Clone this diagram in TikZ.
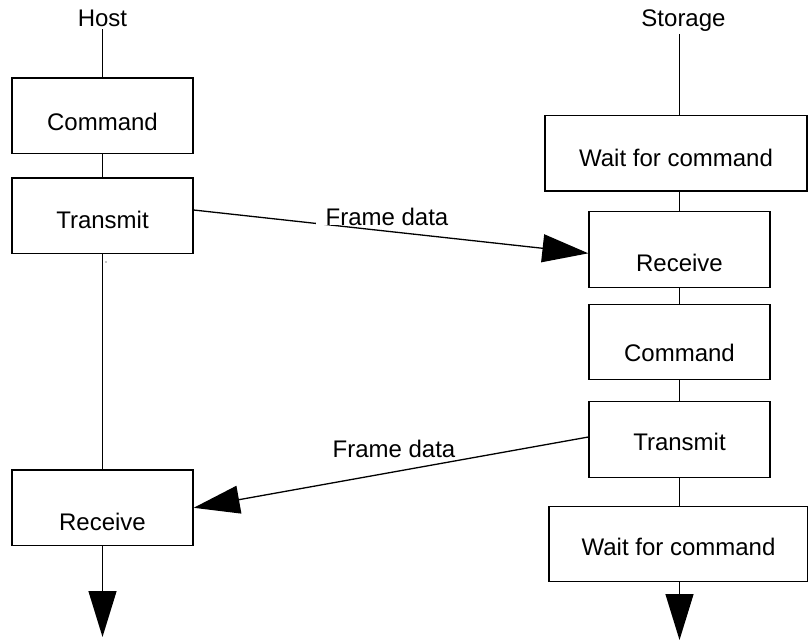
\documentclass[tikz,border=0pt]{standalone}
\usepackage{fontspec}
\setmainfont{Liberation Sans}
\usetikzlibrary{arrows.meta}
\begin{document}
\begin{tikzpicture}[x=1pt, y=-1pt,
  font=\fontsize{24pt}{28pt}\selectfont,
  line width=1.3pt,
  stepbox/.style={draw, inner sep=0pt, minimum height=75.5pt, text depth=0pt},
  narrowbox/.style={stepbox, minimum width=181pt},
  widebox/.style={stepbox},
  lane/.style={inner sep=1.5pt, anchor=base},
  msg/.style={fill=white, text height=17.2pt, text depth=0pt, inner xsep=10pt, inner ysep=0pt},
  flow/.style={-{Triangle[length=46pt, width=28pt]}},
]
\useasboundingbox (0,0) rectangle (808,641);

% lane headers
\node[lane] (host) at (102.5,26.7) {Host};
\node[lane] (stor) at (683.5,26.7) {Storage};

% host lane
\node[narrowbox, text height=30.2pt] (hcmd) at (102.5,115.7) {Command};
\node[narrowbox, text height=26.2pt] (htx)  at (102.5,215.8) {Transmit};
\node[narrowbox, text height=45.2pt] (hrx)  at (102.5,507.8) {Receive};
\coordinate (hend) at (102.5,637);

% storage lane
\node[widebox, minimum width=262pt, text height=27.2pt] (sw1) at (676,153.3) {Wait for command};
\node[narrowbox, text height=44.2pt] (srx)  at (679.5,249.5) {Receive};
\node[narrowbox, text height=39.2pt] (scmd) at (679.5,342) {Command};
\node[narrowbox, text height=21.2pt] (stx)  at (679.5,439.5) {Transmit};
\node[widebox, minimum width=259pt, text height=23.2pt] (sw2) at (678.5,544) {Wait for command};
\coordinate (send) at (679.5,640);

% vertical life lines
\draw (host.south) -- (hcmd.north);
\draw (hcmd.south) -- (htx.north);
\draw (htx.south) -- (hrx.north);
\draw[flow] (hrx.south) -- (hend);

\draw (stor.south -| srx.north) -- (srx.north |- sw1.north);
\draw (srx.north |- sw1.south) -- (srx.north);
\draw (srx.south) -- (scmd.north);
\draw (scmd.south) -- (stx.north);
\draw (stx.south) -- (stx.south |- sw2.north);
\draw[flow] (send |- sw2.south) -- (send);

% stray mark below the host transmit step
\fill (106,262) circle (0.7pt);

% messages between host and storage
\draw[flow] ([yshift=5.8pt]htx.east) -- ([yshift=-3.8pt]srx.west);
\draw[flow] ([yshift=2.5pt]stx.west) -- (hrx.east);
\node[msg] (m1) at (387,216.7) {Frame data};
\node[msg] (m2) at (394,449) {Frame data};
\end{tikzpicture}
\end{document}
